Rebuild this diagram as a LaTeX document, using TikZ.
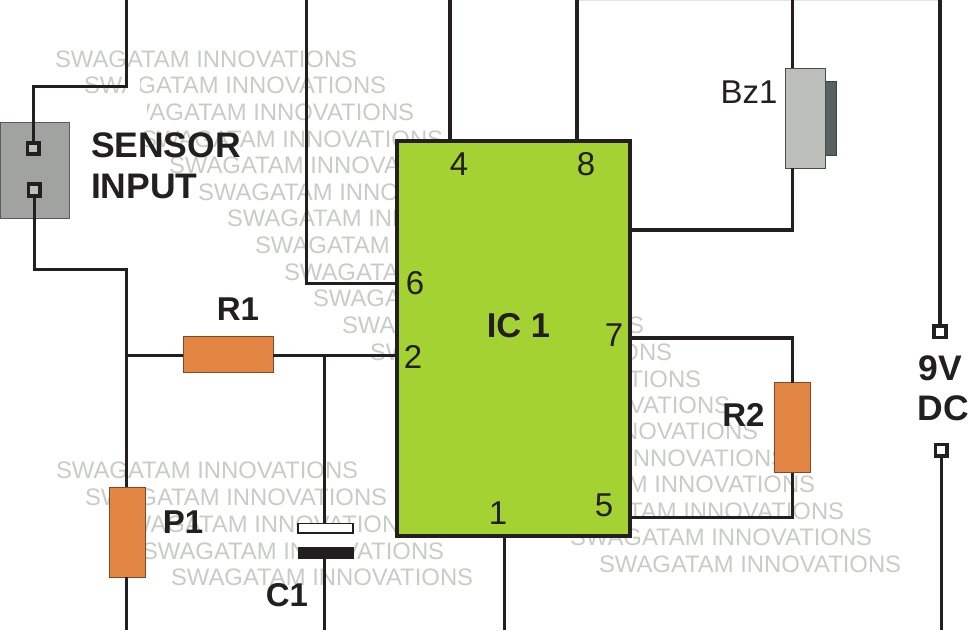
\documentclass[tikz,border=0pt]{standalone}
\usepackage{fontspec}
\setmainfont{Liberation Sans}
\definecolor{wire}{HTML}{231F20}
\definecolor{icgreen}{HTML}{A4D233}
\definecolor{resorange}{HTML}{E48643}
\definecolor{wmgray}{HTML}{C9CCC6}
\definecolor{sensorgray}{HTML}{A1A3A1}
\definecolor{buzzlight}{HTML}{BCBEB9}
\definecolor{buzzdark}{HTML}{566160}
\tikzset{
  every node/.style={outer sep=0pt},
  wm/.style={anchor=west,inner sep=0pt,text=wmgray,font=\fontsize{23.85}{24}\selectfont},
  wireline/.style={draw=wire,line width=3.3pt,line join=miter},
  resistor/.style={draw=black!45!resorange,line width=1pt,fill=resorange,inner sep=0pt},
  term/.style={draw=wire,line width=3.6pt,fill=sensorgray!70!white,minimum size=11.5pt,inner sep=0pt},
  lab/.style={inner sep=0pt,text=wire,font=\fontsize{35.5}{36}\selectfont\bfseries},
  labb/.style={inner sep=0pt,text=wire,font=\fontsize{33}{33}\selectfont\bfseries},
  labc/.style={inner sep=0pt,text=wire,font=\fontsize{35.5}{36}\selectfont\bfseries},
  pin/.style={inner sep=0pt,text=wire,font=\fontsize{33}{33}\selectfont},
}
\begin{document}
\begin{tikzpicture}[x=1pt,y=-1pt]
\useasboundingbox (0,0) rectangle (968,630);
% watermark staircases
\foreach \i/\xx/\yy in {0/55/59,1/84/85,2/112/112,3/141/139,4/169/165,5/198/192,6/227/218,7/255/245,8/284/272,9/313/298,10/342/325,11/370/352,12/399/379,13/428/405,14/456/431,15/485/458,16/513/484,17/542/511,18/570/537,19/599/564}
  \node[wm] (w\i) at (\xx,\yy) {SWAGATAM INNOVATIONS};
\foreach \i/\xx/\yy in {0/56/470,1/85/497,2/113/524,3/142/551,4/171/577}
  \node[wm] (v\i) at (\xx,\yy) {SWAGATAM INNOVATIONS};
% white masks in the watermark
\fill[white] (127,74) rectangle (140,96);
\fill[white] (90,99) rectangle (147,128);
\fill[white] (298,534) rectangle (354,561);
% free wire ends
\coordinate (tA) at (126.7,0);
\coordinate (tB) at (306.7,0);
\coordinate (tC) at (450,0);
\coordinate (tD) at (577,0);
\coordinate (tE) at (792.3,0);
\coordinate (tF) at (940,0);
\coordinate (bA) at (126.7,630);
\coordinate (bB) at (324.5,630);
\coordinate (bC) at (504.3,630);
\coordinate (bD) at (941.2,630);
\coordinate (jA) at (126.7,355.7);
\coordinate (jB) at (324.5,355.7);
% IC
\node[draw=wire,line width=4pt,fill=icgreen,minimum width=233pt,minimum height=395.5pt,inner sep=0pt,anchor=north west] (ic) at (397,140.5) {};
% parts
\node[draw=black!45!sensorgray,line width=1pt,fill=sensorgray,minimum width=69pt,minimum height=96.5pt,inner sep=0pt,anchor=north west] (sensor) at (0,122.3) {};
\node[term] (s1) at (33.3,148.5) {};
\node[term] (s2) at (34.3,190) {};
\node[term,fill=white] (d1) at (940,331.7) {};
\node[term,fill=white] (d2) at (941.2,450.3) {};
\node[resistor,minimum width=90pt,minimum height=36pt] (r1) at (228,354.7) {};
\node[resistor,minimum width=36pt,minimum height=90pt] (p1) at (127.5,532.3) {};
\node[resistor,minimum width=36pt,minimum height=90pt] (r2) at (792.7,427.7) {};
\node[draw=black!30!buzzdark,line width=1pt,fill=buzzdark,minimum width=11pt,minimum height=74pt,inner sep=0pt] (bzb) at (831.2,118) {};
\node[draw=black!60!buzzlight,line width=1pt,fill=buzzlight,minimum width=40pt,minimum height=100pt,inner sep=0pt] (bz) at (805.7,118) {};
\node[draw=wire,line width=1.5pt,fill=white,minimum width=55pt,minimum height=9.5pt,inner sep=0pt] (c1a) at (325.5,528) {};
\node[fill=wire,minimum width=56pt,minimum height=12pt,inner sep=0pt] (c1b) at (326,552.5) {};
% wires
\draw[wire!12,line width=1pt] (tD |- 0,0.5) -- (tF |- 0,0.5);
\draw[wireline] (tA) -- (126.7,86.5) -- (33.3,86.5) -- (s1.north);
\draw[wireline] (s2.south) -- (34.3,269.3) -- (126.7,269.3) -- (jA);
\draw[wireline] (jA) -- (jA |- p1.north);
\draw[wireline] (jA |- p1.south) -- (bA);
\draw[wireline] (jA) -- (r1.west |- jA);
\draw[wireline] (r1.east |- jA) -- (ic.west |- jA);
\draw[wireline] (jB) -- (jB |- c1a.north);
\draw[wireline] (jB |- c1b.south) -- (bB);
\draw[wireline] (tB) -- (306.7,283.3) -- (ic.west |- 0,283.3);
\draw[wireline] (tC) -- (tC |- ic.north);
\draw[wireline] (tD) -- (tD |- ic.north);
\draw[wireline] (tE) -- (tE |- bz.north);
\draw[wireline] (tE |- bz.south) -- (792.3,230) -- (ic.east |- 0,230);
\draw[wireline] (ic.east |- 0,338) -- (792.3,338) -- (792.3,382.7);
\draw[wireline] (792.3,472.7) -- (792.3,517.5) -- (ic.east |- 0,517.5);
\draw[wireline] (bC |- ic.south) -- (bC);
\draw[wireline] (tF) -- (d1.north);
\draw[wireline] (d2.south) -- (bD);
% labels
\node[lab,anchor=west] (l1) at (91,145) {SENSOR};
\node[lab,anchor=west] (l2) at (91,186) {INPUT};
\node[labb] (lr1) at (238,309) {R1};
\node[labb] (lp1) at (183,522) {P1};
\node[labb] (lc1) at (287,595) {C1};
\node[labb] (lr2) at (743.5,414.5) {R2};
\node[labb,font=\fontsize{34.5}{35}\selectfont\bfseries] (lic) at (518.5,326) {IC 1};
\node[labc] (l9) at (940,368.5) {9V};
\node[labc] (ldc) at (943.5,408) {DC};
\node[pin] (lbz) at (749,92) {Bz1};
\node[pin] (n4) at (459,164) {4};
\node[pin] (n8) at (586,164) {8};
\node[pin] (n6) at (415,283) {6};
\node[pin] (n2) at (413,357) {2};
\node[pin] (n7) at (614,335) {7};
\node[pin] (n5) at (604,505) {5};
\node[pin] (n1) at (498,513) {1};
\end{tikzpicture}
\end{document}
